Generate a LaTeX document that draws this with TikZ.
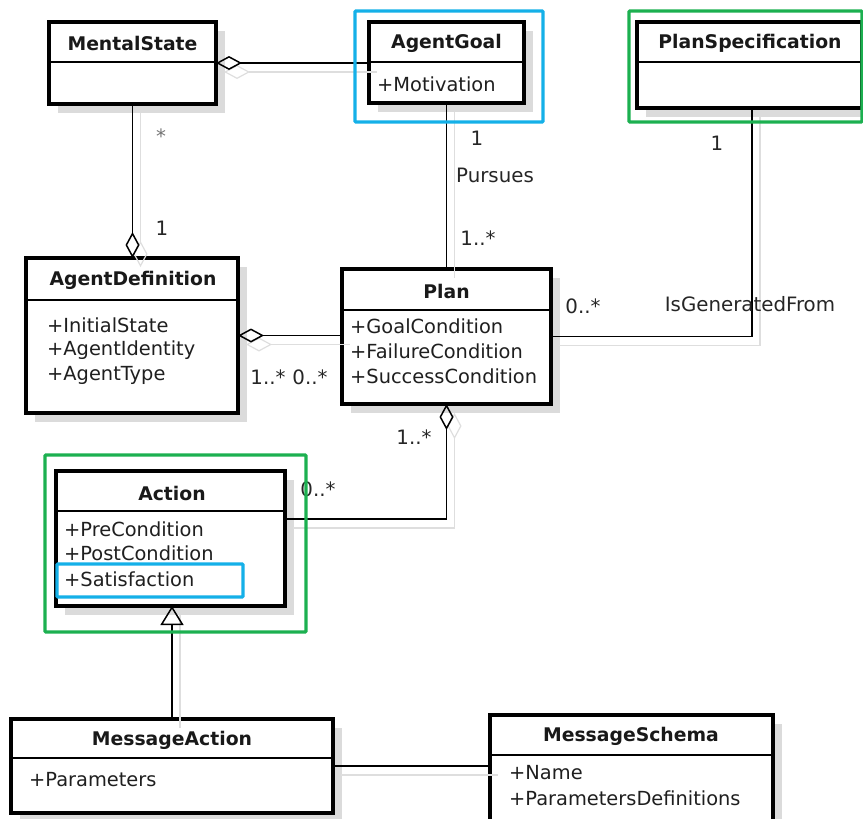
\documentclass[tikz,border=0pt]{standalone}
\usepackage{fontspec}
\setmainfont{DejaVu Sans}
\usetikzlibrary{arrows.meta,shadows}

\tikzset{
  agg/.tip={Diamond[open,length=26pt,width=14pt,line width=1.5pt]},
  gen/.tip={Triangle[open,length=19pt,width=23pt,line width=1.5pt]},
  aggghost/.tip={Diamond[open,length=26pt,width=14pt]}
}

\begin{document}
\begin{tikzpicture}[x=1pt,y=-1pt,
  classbox/.style={rectangle, draw=black, line width=3.2pt, fill=white,
    inner sep=0pt, outer sep=0pt, anchor=north west,
    general shadow={fill=black!14, shadow xshift=9pt, shadow yshift=-9pt}},
  sepline/.style={line width=1.4pt},
  title/.style={font=\fontsize{18.8}{20}\selectfont\bfseries, text=black!90, inner sep=0pt},
  attr/.style={font=\fontsize{19.4}{22}\selectfont, text=black!88, anchor=west, inner sep=0pt},
  mult/.style={font=\fontsize{19.8}{22}\selectfont, text=black!85, inner sep=0pt},
  conn/.style={line width=1.5pt, black},
  ghost/.style={line width=1.2pt, black!13},
  bluemark/.style={draw={rgb,255:red,20;green,176;blue,232}, line width=3.3pt, rounded corners=1pt},
  greenmark/.style={draw={rgb,255:red,28;green,176;blue,80}, line width=3.3pt, rounded corners=1pt}
]
\useasboundingbox (0,0) rectangle (863,819);

% ---- class boxes ----
\node[classbox, minimum width=167pt, minimum height=82pt] (ms) at (49,22) {};
\node[classbox, minimum width=155pt, minimum height=81pt] (ag) at (369,22) {};
\node[classbox, minimum width=225pt, minimum height=86pt] (ps) at (637,22) {};
\node[classbox, minimum width=212pt, minimum height=155pt] (ad) at (26,258) {};
\node[classbox, minimum width=209pt, minimum height=135pt] (plan) at (342,269) {};
\node[classbox, minimum width=229pt, minimum height=135pt] (act) at (56,471) {};
\node[classbox, minimum width=322pt, minimum height=94pt] (ma) at (11,719) {};
\node[classbox, minimum width=283pt, minimum height=120pt] (msch) at (490,715) {};

% compartment separators
\draw[sepline] ([yshift=-40pt]ms.north west) -- ([yshift=-40pt]ms.north east);
\draw[sepline] ([yshift=-40pt]ag.north west) -- ([yshift=-40pt]ag.north east);
\draw[sepline] ([yshift=-40pt]ps.north west) -- ([yshift=-40pt]ps.north east);
\draw[sepline] ([yshift=-42pt]ad.north west) -- ([yshift=-42pt]ad.north east);
\draw[sepline] ([yshift=-41pt]plan.north west) -- ([yshift=-41pt]plan.north east);
\draw[sepline] ([yshift=-40pt]act.north west) -- ([yshift=-40pt]act.north east);
\draw[sepline] ([yshift=-39pt]ma.north west) -- ([yshift=-39pt]ma.north east);
\draw[sepline] ([yshift=-40pt]msch.north west) -- ([yshift=-40pt]msch.north east);

% class names
\node[title] (ms-t) at (132.5,43) {MentalState};
\node[title] (ag-t) at (446.5,43) {AgentGoal};
\node[title] (ps-t) at (750,43) {PlanSpecification};
\node[title] (ad-t) at (133,280) {AgentDefinition};
\node[title] (plan-t) at (446.5,291) {Plan};
\node[title] (act-t) at (172,493) {Action};
\node[title] (ma-t) at (172,740) {MessageAction};
\node[title] (msch-t) at (631,736) {MessageSchema};

% attributes
\node[attr] (ag-a1) at (377,84) {+Motivation};
\node[attr] (ad-a1) at (47,325) {+InitialState};
\node[attr] (ad-a2) at (47,350) {+AgentIdentity};
\node[attr] (ad-a3) at (47,375) {+AgentType};
\node[attr] (plan-a1) at (350,326) {+GoalCondition};
\node[attr] (plan-a2) at (350,351) {+FailureCondition};
\node[attr] (plan-a3) at (350,376) {+SuccessCondition};
\node[attr] (act-a1) at (64,529) {+PreCondition};
\node[attr] (act-a2) at (64,553) {+PostCondition};
\node[attr] (act-a3) at (64,579) {+Satisfaction};
\node[attr] (ma-a1) at (29,780) {+Parameters};
\node[attr] (msch-a1) at (509,773) {+Name};
\node[attr] (msch-a2) at (509,798) {+ParametersDefinitions};

% ---- faint offset copies of the connectors ----
\begin{scope}[transform canvas={shift={(8pt,-9pt)}}]
  \draw[ghost, {aggghost}-] (ms.east) -- (ms.east -| ag.west);
  \draw[ghost, -{aggghost}] (ms.south) -- (ms.south |- ad.north);
  \draw[ghost] (ag.south) -- (ag.south |- plan.north);
  \draw[ghost] ([xshift=2.5pt]ps.south) |- (plan.east);
  \draw[ghost, {aggghost}-] (ad.east) -- (ad.east -| plan.west);
  \draw[ghost, {aggghost}-] (plan.south) |- ([yshift=19.5pt]act.east);
  \draw[ghost] (ma.north) -- (ma.north |- act.south);
  \draw[ghost] (ma.east) -- (ma.east -| msch.west);
\end{scope}

% ---- associations ----
\draw[conn, {agg}-] (ms.east) -- (ms.east -| ag.west);
\draw[conn, -{agg}] (ms.south) -- (ms.south |- ad.north);
\draw[conn] (ag.south) -- (ag.south |- plan.north);
\draw[conn] ([xshift=2.5pt]ps.south) |- (plan.east);
\draw[conn, {agg}-] (ad.east) -- (ad.east -| plan.west);
\draw[conn, {agg}-] (plan.south) |- ([yshift=19.5pt]act.east);
\draw[conn, -{gen}] (ma.north) -- (ma.north |- act.south);
\draw[conn] (ma.east) -- (ma.east -| msch.west);

% multiplicities and association names
\node[mult, text=black!55] (m1) at (161,136) {*};
\node[mult] (m2) at (162,228) {1};
\node[mult] (m3) at (477,138) {1};
\node[mult] (m4) at (495,175) {Pursues};
\node[mult] (m5) at (478,238) {1..*};
\node[mult] (m6) at (717,143) {1};
\node[mult] (m7) at (583,306) {0..*};
\node[mult] (m8) at (750,304) {IsGeneratedFrom};
\node[mult] (m9) at (268,377) {1..*};
\node[mult] (m10) at (310,377) {0..*};
\node[mult] (m11) at (414,437) {1..*};
\node[mult] (m12) at (318,489) {0..*};

% ---- highlight frames ----
\draw[bluemark] (355,11) rectangle (543,122) coordinate (hl1);
\draw[greenmark] (629,11) rectangle (862,122) coordinate (hl2);
\draw[greenmark] (45,455) rectangle (306,632) coordinate (hl3);
\draw[bluemark] (57,564) rectangle (243,597) coordinate (hl4);
\end{tikzpicture}
\end{document}
